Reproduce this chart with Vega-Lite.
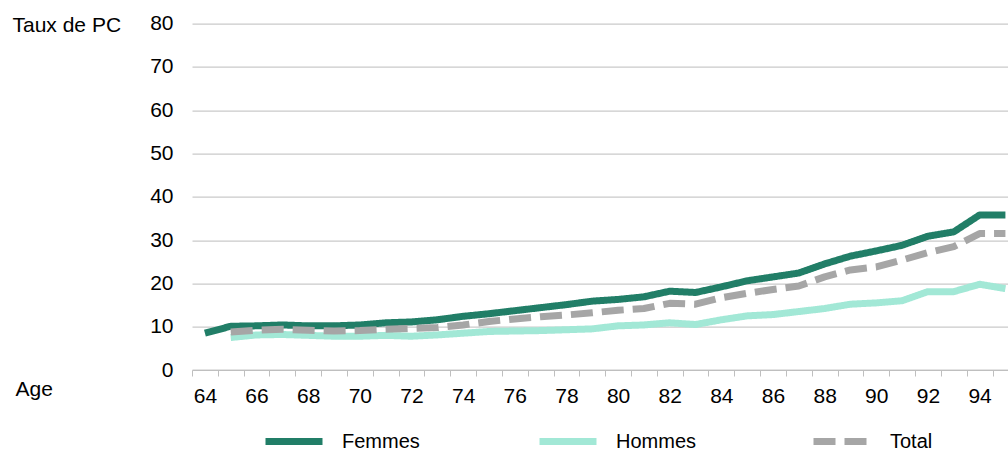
{
  "$schema": "https://vega.github.io/schema/vega-lite/v6.json",
  "width": 816,
  "height": 346.4,
  "autosize": {"type": "none"},
  "padding": {"left": 192, "top": 23.6, "right": 0, "bottom": 81},
  "config": {
    "font": "Liberation Sans",
    "view": {"stroke": null},
    "axis": {"labelFontSize": 21, "titleFontSize": 21, "labelColor": "#000000", "titleColor": "#000000", "titleFontWeight": "normal"},
    "legend": {"labelFontSize": 20, "labelColor": "#000000"}
  },
  "data": {
    "values": [
      {"age": 64, "serie": "Femmes", "value": 8.5},
      {"age": 65, "serie": "Femmes", "value": 10.1},
      {"age": 66, "serie": "Femmes", "value": 10.2},
      {"age": 67, "serie": "Femmes", "value": 10.4},
      {"age": 68, "serie": "Femmes", "value": 10.2},
      {"age": 69, "serie": "Femmes", "value": 10.2},
      {"age": 70, "serie": "Femmes", "value": 10.4},
      {"age": 71, "serie": "Femmes", "value": 10.9},
      {"age": 72, "serie": "Femmes", "value": 11.1},
      {"age": 73, "serie": "Femmes", "value": 11.6},
      {"age": 74, "serie": "Femmes", "value": 12.4},
      {"age": 75, "serie": "Femmes", "value": 13.0},
      {"age": 76, "serie": "Femmes", "value": 13.7},
      {"age": 77, "serie": "Femmes", "value": 14.4},
      {"age": 78, "serie": "Femmes", "value": 15.1},
      {"age": 79, "serie": "Femmes", "value": 15.9},
      {"age": 80, "serie": "Femmes", "value": 16.3},
      {"age": 81, "serie": "Femmes", "value": 16.9},
      {"age": 82, "serie": "Femmes", "value": 18.2},
      {"age": 83, "serie": "Femmes", "value": 17.9},
      {"age": 84, "serie": "Femmes", "value": 19.2},
      {"age": 85, "serie": "Femmes", "value": 20.6},
      {"age": 86, "serie": "Femmes", "value": 21.5},
      {"age": 87, "serie": "Femmes", "value": 22.4},
      {"age": 88, "serie": "Femmes", "value": 24.5},
      {"age": 89, "serie": "Femmes", "value": 26.3},
      {"age": 90, "serie": "Femmes", "value": 27.5},
      {"age": 91, "serie": "Femmes", "value": 28.8},
      {"age": 92, "serie": "Femmes", "value": 30.9},
      {"age": 93, "serie": "Femmes", "value": 31.9},
      {"age": 94, "serie": "Femmes", "value": 35.8},
      {"age": 95, "serie": "Femmes", "value": 35.8},
      {"age": 65, "serie": "Hommes", "value": 7.5},
      {"age": 66, "serie": "Hommes", "value": 8.1},
      {"age": 67, "serie": "Hommes", "value": 8.2},
      {"age": 68, "serie": "Hommes", "value": 8.0},
      {"age": 69, "serie": "Hommes", "value": 7.8},
      {"age": 70, "serie": "Hommes", "value": 7.8},
      {"age": 71, "serie": "Hommes", "value": 8.0},
      {"age": 72, "serie": "Hommes", "value": 7.8},
      {"age": 73, "serie": "Hommes", "value": 8.1},
      {"age": 74, "serie": "Hommes", "value": 8.5},
      {"age": 75, "serie": "Hommes", "value": 8.9},
      {"age": 76, "serie": "Hommes", "value": 9.0},
      {"age": 77, "serie": "Hommes", "value": 9.1},
      {"age": 78, "serie": "Hommes", "value": 9.3},
      {"age": 79, "serie": "Hommes", "value": 9.5},
      {"age": 80, "serie": "Hommes", "value": 10.2},
      {"age": 81, "serie": "Hommes", "value": 10.4},
      {"age": 82, "serie": "Hommes", "value": 10.9},
      {"age": 83, "serie": "Hommes", "value": 10.5},
      {"age": 84, "serie": "Hommes", "value": 11.6},
      {"age": 85, "serie": "Hommes", "value": 12.5},
      {"age": 86, "serie": "Hommes", "value": 12.8},
      {"age": 87, "serie": "Hommes", "value": 13.5},
      {"age": 88, "serie": "Hommes", "value": 14.2},
      {"age": 89, "serie": "Hommes", "value": 15.2},
      {"age": 90, "serie": "Hommes", "value": 15.5},
      {"age": 91, "serie": "Hommes", "value": 16.0},
      {"age": 92, "serie": "Hommes", "value": 18.1},
      {"age": 93, "serie": "Hommes", "value": 18.1},
      {"age": 94, "serie": "Hommes", "value": 19.8},
      {"age": 95, "serie": "Hommes", "value": 18.8},
      {"age": 65, "serie": "Total", "value": 8.8},
      {"age": 66, "serie": "Total", "value": 9.2},
      {"age": 67, "serie": "Total", "value": 9.4},
      {"age": 68, "serie": "Total", "value": 9.2},
      {"age": 69, "serie": "Total", "value": 9.0},
      {"age": 70, "serie": "Total", "value": 9.1},
      {"age": 71, "serie": "Total", "value": 9.4},
      {"age": 72, "serie": "Total", "value": 9.6},
      {"age": 73, "serie": "Total", "value": 9.8},
      {"age": 74, "serie": "Total", "value": 10.4},
      {"age": 75, "serie": "Total", "value": 11.2},
      {"age": 76, "serie": "Total", "value": 11.8},
      {"age": 77, "serie": "Total", "value": 12.3},
      {"age": 78, "serie": "Total", "value": 12.7},
      {"age": 79, "serie": "Total", "value": 13.2},
      {"age": 80, "serie": "Total", "value": 13.8},
      {"age": 81, "serie": "Total", "value": 14.2},
      {"age": 82, "serie": "Total", "value": 15.4},
      {"age": 83, "serie": "Total", "value": 15.2},
      {"age": 84, "serie": "Total", "value": 16.7},
      {"age": 85, "serie": "Total", "value": 17.7},
      {"age": 86, "serie": "Total", "value": 18.6},
      {"age": 87, "serie": "Total", "value": 19.4},
      {"age": 88, "serie": "Total", "value": 21.5},
      {"age": 89, "serie": "Total", "value": 23.1},
      {"age": 90, "serie": "Total", "value": 23.8},
      {"age": 91, "serie": "Total", "value": 25.4},
      {"age": 92, "serie": "Total", "value": 27.1},
      {"age": 93, "serie": "Total", "value": 28.5},
      {"age": 94, "serie": "Total", "value": 31.5},
      {"age": 95, "serie": "Total", "value": 31.5}
    ]
  },
  "mark": {"type": "line", "strokeWidth": 7, "strokeJoin": "round", "clip": true},
  "encoding": {
    "x": {
      "field": "age",
      "type": "quantitative",
      "scale": {"domain": [63.5, 95.1], "nice": false, "zero": false},
      "axis": {
        "title": "Age",
        "titleX": -177,
        "titleY": 25,
        "titleAlign": "left",
        "titleBaseline": "alphabetic",
        "values": [63.5, 64.5, 65.5, 66.5, 67.5, 68.5, 69.5, 70.5, 71.5, 72.5, 73.5, 74.5, 75.5, 76.5, 77.5, 78.5, 79.5, 80.5, 81.5, 82.5, 83.5, 84.5, 85.5, 86.5, 87.5, 88.5, 89.5, 90.5, 91.5, 92.5, 93.5, 94.5],
        "labelExpr": "datum.value % 2 == 1.5 ? '' + (datum.value + 0.5) : ''",
        "labelOffset": 12.9,
        "labelOverlap": false,
        "labelBound": false,
        "labelFlush": false,
        "labelPadding": 9,
        "tickSize": 6,
        "tickColor": "#bfbfbf",
        "domainColor": "#bfbfbf",
        "grid": false
      }
    },
    "y": {
      "field": "value",
      "type": "quantitative",
      "scale": {"domain": [0, 80], "nice": false},
      "axis": {
        "title": "Taux de PC",
        "titleAngle": 0,
        "titleX": -180,
        "titleY": 7.4,
        "titleAlign": "left",
        "titleBaseline": "alphabetic",
        "values": [0, 10, 20, 30, 40, 50, 60, 70, 80],
        "domain": false,
        "ticks": false,
        "labelPadding": 19,
        "grid": true,
        "gridColor": "#bcbcbc",
        "gridWidth": 1
      }
    },
    "color": {
      "field": "serie",
      "type": "nominal",
      "scale": {"domain": ["Femmes", "Hommes", "Total"], "range": ["#217e67", "#a2e8d6", "#a6a6a6"]},
      "legend": {
        "title": null,
        "orient": "none",
        "legendX": 70,
        "legendY": 386,
        "direction": "horizontal",
        "columns": 3,
        "gridAlign": "all",
        "columnPadding": 102,
        "symbolType": "stroke",
        "symbolSize": 3249,
        "symbolStrokeWidth": 7,
        "labelOffset": 16
      }
    },
    "strokeDash": {
      "field": "serie",
      "type": "nominal",
      "scale": {"domain": ["Femmes", "Hommes", "Total"], "range": [[1, 0], [1, 0], [22, 9]]},
      "legend": {
        "title": null,
        "orient": "none",
        "legendX": 70,
        "legendY": 386,
        "direction": "horizontal",
        "columns": 3,
        "gridAlign": "all",
        "columnPadding": 102,
        "symbolType": "stroke",
        "symbolSize": 3249,
        "symbolStrokeWidth": 7,
        "labelOffset": 16
      }
    }
  }
}
